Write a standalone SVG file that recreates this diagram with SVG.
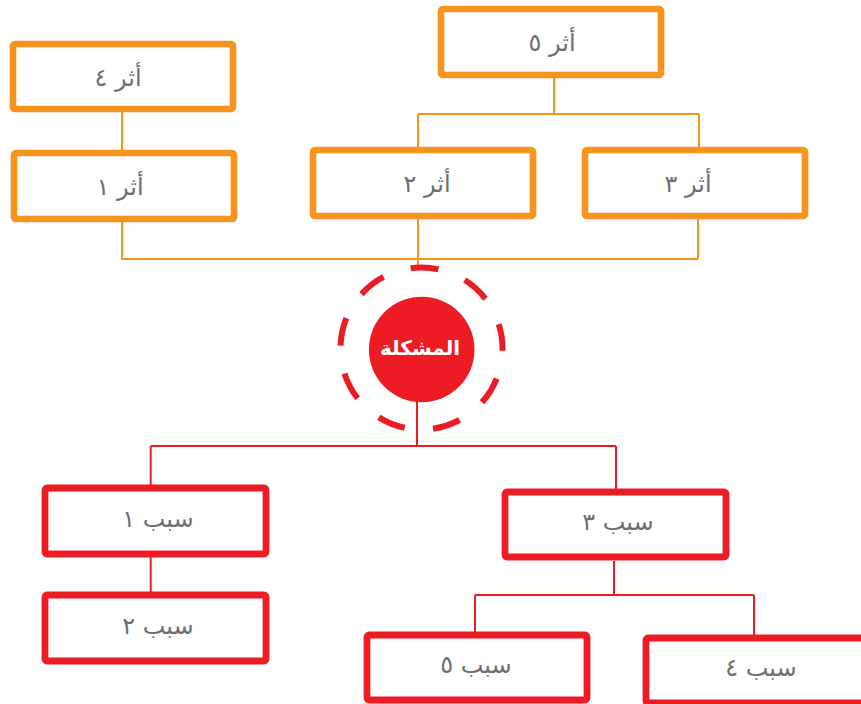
<svg xmlns="http://www.w3.org/2000/svg" width="861" height="704" viewBox="0 0 861 704">
<style>
.ob{fill:#fff;stroke:#f7941d;stroke-width:6.6;}
.rb{fill:#fff;stroke:#ed1c24;stroke-width:6.8;}
.oc{fill:none;stroke:#f7941d;stroke-width:2;}
.rc{fill:none;stroke:#ed1c24;stroke-width:2;}
.t{font-family:"DejaVu Sans",sans-serif;font-size:24px;fill:#6d6e71;text-anchor:middle;direction:rtl;}
.ct{font-family:"DejaVu Sans",sans-serif;font-size:20px;font-weight:bold;fill:#fff;text-anchor:middle;direction:rtl;}
</style>
<rect width="861" height="704" fill="#fff"/>
<g id="connectors">
<path class="oc" d="M122 112V150 M554 77V114 M418 114H699 M418 114V147 M699 114V147 M122 222V259H698 M418 219V266 M698 219V259"/>
<path class="rc" d="M417 402V446 M150.7 446H616 M150.7 446V485 M616 446V489 M150.7 557V592 M614 561V595 M475 595H754 M475 595V632 M754 595V635"/>
</g>
<g id="n-athar4"><rect class="ob" x="13" y="44" width="220" height="65" rx="2"/><text class="t" x="118" y="86">أثر ٤</text></g>
<g id="n-athar1"><rect class="ob" x="14" y="153" width="220" height="66" rx="2"/><text class="t" x="120" y="195">أثر ١</text></g>
<g id="n-athar5"><rect class="ob" x="441" y="9" width="220" height="66" rx="2"/><text class="t" x="552" y="51">أثر ٥</text></g>
<g id="n-athar2"><rect class="ob" x="313" y="150" width="220" height="66" rx="2"/><text class="t" x="427" y="192">أثر ٢</text></g>
<g id="n-athar3"><rect class="ob" x="585" y="150" width="220" height="66" rx="2"/><text class="t" x="688" y="192">أثر ٣</text></g>
<g id="n-problem">
<circle cx="421.5" cy="348.5" r="81" fill="none" stroke="#ed1c24" stroke-width="6" stroke-dasharray="28 28.55" stroke-dashoffset="25.7"/>
<circle cx="421.7" cy="349.5" r="52.8" fill="#ed1c24"/>
<text class="ct" x="420" y="355">المشكلة</text>
</g>
<g id="n-sabab1"><rect class="rb" x="45" y="488" width="221" height="66" rx="2"/><text class="t" x="158" y="527">سبب ١</text></g>
<g id="n-sabab2"><rect class="rb" x="45" y="595" width="221" height="66" rx="2"/><text class="t" x="158" y="634">سبب ٢</text></g>
<g id="n-sabab3"><rect class="rb" x="505" y="492" width="221" height="65" rx="2"/><text class="t" x="618" y="530">سبب ٣</text></g>
<g id="n-sabab5"><rect class="rb" x="367" y="635" width="220" height="65" rx="2"/><text class="t" x="476" y="673">سبب ٥</text></g>
<g id="n-sabab4"><rect class="rb" x="646" y="638" width="220" height="65" rx="2"/><text class="t" x="761" y="676">سبب ٤</text></g>
</svg>
